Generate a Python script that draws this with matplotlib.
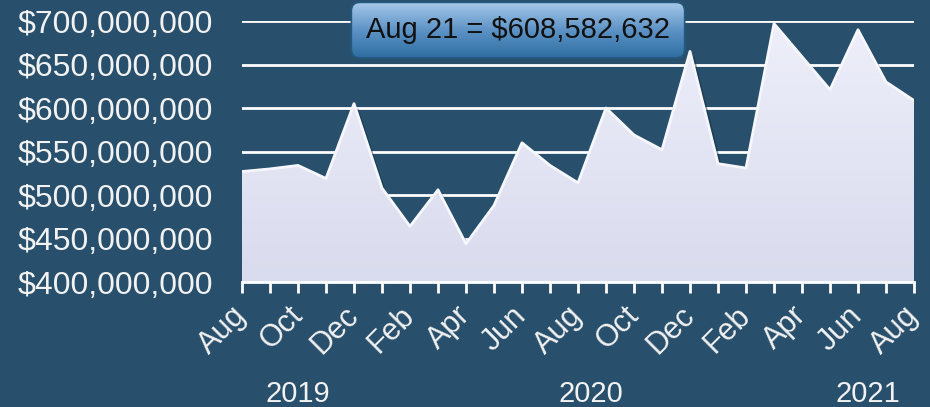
import numpy as np
import matplotlib
matplotlib.use("Agg")
import matplotlib.pyplot as plt
import matplotlib.patheffects as pe
from matplotlib.patches import FancyBboxPatch
from matplotlib.ticker import FuncFormatter

# monthly values, Aug 2019 .. Aug 2021
months = ["Aug", "Sep", "Oct", "Nov", "Dec", "Jan", "Feb", "Mar", "Apr", "May", "Jun", "Jul",
          "Aug", "Sep", "Oct", "Nov", "Dec", "Jan", "Feb", "Mar", "Apr", "May", "Jun", "Jul", "Aug"]
values = [527e6, 530e6, 534e6, 519e6, 605e6, 508e6, 464e6, 506e6, 444e6, 488e6, 560e6, 534e6,
          514e6, 600e6, 569e6, 552e6, 665e6, 536e6, 531e6, 697e6, 659e6, 621e6, 690e6, 630e6,
          608582632]
years = ["2019", "2020", "2021"]
year_pos = [2.0, 12.45, 22.35]

bg = "#28506c"
txt = "#f2f2f2"
plt.rcParams["font.family"] = ["Liberation Sans", "DejaVu Sans"]

fig = plt.figure(figsize=(9.3, 4.07), dpi=100, facecolor=bg)
ax = fig.add_axes([0.2602, 0.3071, 0.7226, 0.6413])
ax.set_facecolor(bg)

x = np.arange(len(values))
ax.set_xlim(0, len(values) - 1)
ax.set_ylim(400e6, 700e6)
ax.set_yticks(np.arange(400e6, 700e6 + 1, 50e6))
ax.yaxis.grid(True, color="white", lw=2)
ax.set_axisbelow(True)

poly = ax.fill_between(x, 400e6, values, color="#e0e2f2", zorder=2,
                       path_effects=[pe.SimplePatchShadow(offset=(3, -3), shadow_rgbFace="#15303f", alpha=0.5),
                                     pe.Normal()])
# soft vertical gradient inside the area
grad = np.linspace(0, 1, 256).reshape(-1, 1)
cmap = matplotlib.colors.LinearSegmentedColormap.from_list("g", ["#d9dbee", "#eeeffa"])
im = ax.imshow(grad, cmap=cmap, aspect="auto", origin="lower",
               extent=[0, len(values) - 1, 400e6, 700e6], zorder=2.5)
im.set_clip_path(poly.get_paths()[0], transform=ax.transData)
ax.plot(x, values, color="#f6f7fd", lw=2, zorder=3)

for s in ["left", "right", "top"]:
    ax.spines[s].set_visible(False)
ax.spines["bottom"].set_color("white")
ax.spines["bottom"].set_linewidth(2)
ax.spines["bottom"].set_zorder(4)

ax.yaxis.set_major_formatter(FuncFormatter(lambda v, p: f"${v:,.0f}"))
ax.tick_params(axis="y", length=0, labelsize=23, labelcolor=txt, pad=21)

ax.set_xticks(x)
ax.set_xticklabels([m if i % 2 == 0 else "" for i, m in enumerate(months)])
ax.tick_params(axis="x", length=8, width=2, color="white", labelsize=22, labelcolor=txt, pad=13)
for lab in ax.get_xticklabels():
    lab.set_rotation(45)
    lab.set_ha("right")
    lab.set_va("center")
    lab.set_rotation_mode("anchor")

for yr, xp in zip(years, year_pos):
    ax.text(xp, -0.43, yr, transform=ax.get_xaxis_transform(), ha="center", va="center",
            fontsize=21, color=txt)

# callout box with a blue vertical gradient
bx = fig.add_axes([0.376, 0.855, 0.362, 0.142])
bx.set_xlim(0, 1)
bx.set_ylim(0, 1)
bx.axis("off")
bcmap = matplotlib.colors.LinearSegmentedColormap.from_list("b", ["#2c6ca0", "#5d93c6", "#aacbeb"])
bim = bx.imshow(grad, cmap=bcmap, aspect="auto", origin="lower", extent=[0, 1, 0, 1])
box = FancyBboxPatch((0.005, 0.02), 0.99, 0.96, boxstyle="round,pad=0,rounding_size=0.025",
                     mutation_aspect=6.0, facecolor="none", edgecolor="#24597f", lw=1.2,
                     transform=bx.transAxes)
bx.add_patch(box)
bim.set_clip_path(box)
bx.text(0.5, 0.5, f"{months[-1]} 21 = ${values[-1]:,.0f}", ha="center", va="center",
        fontsize=21, color="#111111")

fig.savefig("out.png", dpi=100, facecolor=bg)
